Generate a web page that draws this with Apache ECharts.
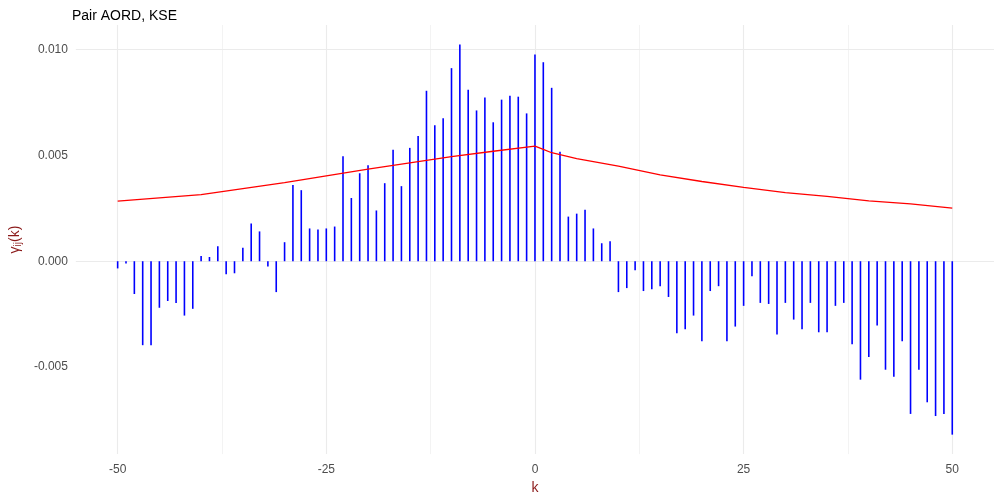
<!DOCTYPE html>
<html>
<head>
<meta charset="utf-8">
<script src="https://cdn.jsdelivr.net/npm/echarts@6/dist/echarts.min.js"></script>
<style>html,body{margin:0;background:#fff}#c{width:1000px;height:500px}</style>
</head>
<body>
<div id="c"></div>
<script>
// lags -50..50
const lags = []
for (let k = -50; k <= 50; k++) lags.push(k)

// cross-covariance
const gamma = [
  -0.00034, -0.00011, -0.00155, -0.00397, -0.00397, -0.0022, -0.00188, -0.00197, -0.00257, -0.00225,
  0.00025, 0.0002, 0.00071, -0.00062, -0.00057, 0.00064, 0.00178, 0.00141, -0.00025, -0.00146,
  0.0009, 0.00361, 0.00336, 0.00155, 0.0015, 0.00155, 0.00164, 0.00496, 0.00299, 0.00416,
  0.00454, 0.0024, 0.00369, 0.00527, 0.00355, 0.00536, 0.00592, 0.00806, 0.00643, 0.00676,
  0.00913, 0.01025, 0.00811, 0.00713, 0.00774, 0.00657, 0.00764, 0.00783, 0.00778, 0.00699,
  0.00978, 0.00941, 0.0082, 0.00518, 0.00211, 0.00225, 0.00243, 0.00155, 0.00085, 0.00095,
  -0.00146, -0.00127, -0.00043, -0.00141, -0.00132, -0.00118, -0.00169, -0.00341, -0.00322, -0.00257,
  -0.00378, -0.00141, -0.00118, -0.00378, -0.00309, -0.00211, -0.00071, -0.00197, -0.00202, -0.00346,
  -0.00197, -0.00276, -0.00322, -0.00197, -0.00336, -0.00336, -0.00211, -0.00197, -0.00392, -0.0056,
  -0.00453, -0.00304, -0.00513, -0.00546, -0.00378, -0.00722, -0.00513, -0.00667, -0.00732, -0.00722,
  -0.0082
]

// threshold curve (red)
const bandK = [-50, -40, -30, -20, -10, -5, 0, 1, 2, 5, 10, 15, 20, 25, 30, 35, 40, 45, 50]
const bandV = [0.00284, 0.00315, 0.00372, 0.00436, 0.00495, 0.0052, 0.00544, 0.00529, 0.00513,
  0.00485, 0.0045, 0.00408, 0.00377, 0.00349, 0.00324, 0.00307, 0.00285, 0.00271, 0.00251]

const xMajor = [-50, -25, 0, 25, 50]
const xMinor = [-37.5, -12.5, 12.5, 37.5]
const yMajor = [-0.005, 0, 0.005, 0.01]
const yMinor = [-0.0075, -0.0025, 0.0025, 0.0075]

const fmtY = v => v === 0 ? '0.000' : v.toFixed(3)
const gridLines = []
xMajor.forEach(v => gridLines.push({ xAxis: v, lineStyle: { width: 1.1 } }))
xMinor.forEach(v => gridLines.push({ xAxis: v, lineStyle: { width: 0.6 } }))
yMajor.forEach(v => gridLines.push({ yAxis: v, lineStyle: { width: 1.1 } }))
yMinor.forEach(v => gridLines.push({ yAxis: v, lineStyle: { width: 0.6 } }))

const chart = echarts.init(document.getElementById('c'))
chart.setOption({
  animation: false,
  title: {
    text: 'Pair AORD, KSE', left: 67, top: 4,
    textStyle: { fontFamily: 'Liberation Sans', fontSize: 14, fontWeight: 'normal', color: '#000' }
  },
  grid: { left: 69, right: 6, top: 25, bottom: 39 },
  xAxis: {
    type: 'value', min: -55, max: 55,
    name: 'k', nameLocation: 'middle', nameGap: 22,
    nameTextStyle: { color: '#8B1A1A', fontSize: 14, fontFamily: 'Liberation Sans' },
    axisLine: { show: false }, axisTick: { show: false }, splitLine: { show: false },
    axisLabel: { customValues: xMajor, color: '#4d4d4d', fontSize: 12, fontFamily: 'Liberation Sans', margin: 10 }
  },
  yAxis: {
    type: 'value', min: -0.00912, max: 0.01117,
    name: '{g|γ}{s|ij}{g|(k)}', nameLocation: 'middle', nameGap: 52,
    nameTextStyle: {
      rich: {
        g: { color: '#8B1A1A', fontSize: 14, fontFamily: 'Liberation Sans' },
        s: { color: '#8B1A1A', fontSize: 10, fontFamily: 'Liberation Sans', verticalAlign: 'bottom', padding: [6, 0, 0, 0] }
      }
    },
    axisLine: { show: false }, axisTick: { show: false }, splitLine: { show: false },
    axisLabel: { customValues: yMajor, formatter: fmtY, color: '#4d4d4d', fontSize: 12, fontFamily: 'Liberation Sans', margin: 8 }
  },
  series: [
    {
      type: 'bar', barWidth: 1.6,
      itemStyle: { color: '#0000ff' },
      data: lags.map((k, i) => [k, gamma[i]]),
      markLine: {
        silent: true, symbol: 'none', label: { show: false },
        lineStyle: { color: '#ebebeb', type: 'solid' },
        data: gridLines, z: 0
      },
      z: 2
    },
    {
      type: 'line', symbol: 'none',
      lineStyle: { color: '#ff0000', width: 1.3 },
      data: bandK.map((k, i) => [k, bandV[i]]),
      z: 3
    }
  ]
})
</script>
</body>
</html>
